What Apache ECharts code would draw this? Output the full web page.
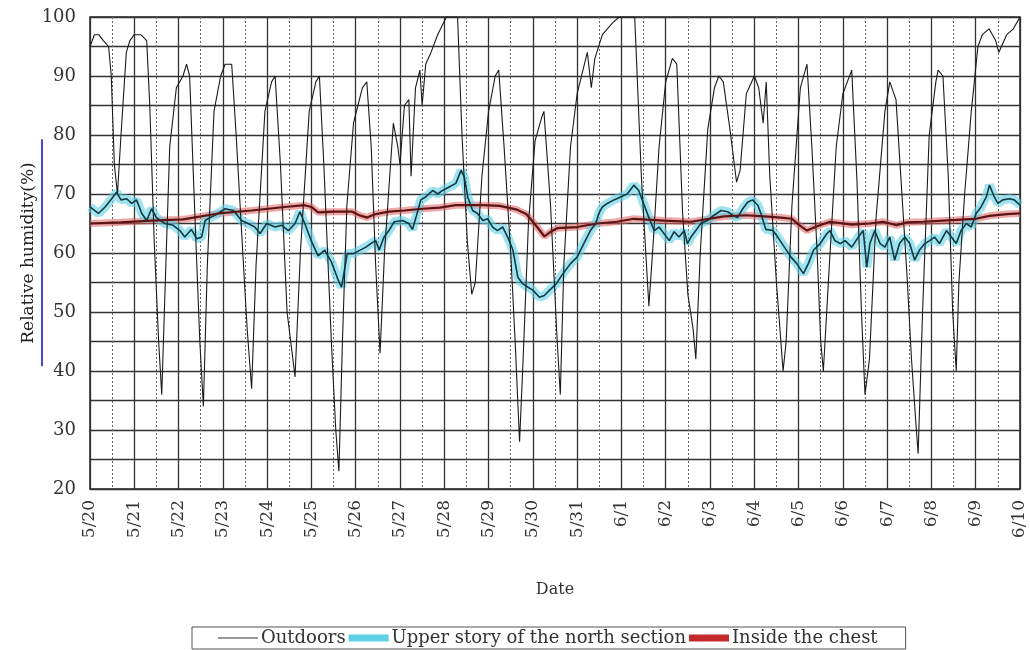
<!DOCTYPE html>
<html>
<head>
<meta charset="utf-8">
<title>Relative humidity</title>
<script src="https://cdn.jsdelivr.net/npm/echarts@6/dist/echarts.min.js"></script>
<style>
  html, body { margin: 0; padding: 0; background: #fff; }
  #chart { width: 1030px; height: 650px; }
</style>
</head>
<body>
<div id="chart"></div>
<script>
// x = days since 5/20 0:00
const dateLabels = ["5/20", "5/21", "5/22", "5/23", "5/24", "5/25", "5/26", "5/27", "5/28", "5/29", "5/30",
  "5/31", "6/1", "6/2", "6/3", "6/4", "6/5", "6/6", "6/7", "6/8", "6/9", "6/10"];

const outdoorsDay = [0, 0.1, 0.2, 0.3, 0.42, 0.48, 0.55, 0.62, 0.7, 0.82, 0.9, 1.0, 1.15, 1.28, 1.35, 1.45, 1.55, 1.62,
  1.7, 1.8, 1.95, 2.1, 2.18, 2.25, 2.35, 2.48, 2.56, 2.65, 2.8, 2.95, 3.05, 3.2, 3.3, 3.45, 3.55, 3.65, 3.75, 3.95,
  4.1, 4.18, 4.3, 4.45, 4.63, 4.75, 4.95, 5.1, 5.18, 5.28, 5.45, 5.55, 5.62, 5.7, 5.8, 5.95, 6.15, 6.25, 6.35, 6.45,
  6.55, 6.65, 6.85, 6.95, 7.0, 7.1, 7.2, 7.25, 7.35, 7.45, 7.5, 7.58, 7.7, 7.85, 7.98, 8.05, 8.3, 8.4, 8.52, 8.62,
  8.7, 8.85, 9.0, 9.15, 9.23, 9.35, 9.5, 9.6, 9.7, 9.78, 9.9, 10.05, 10.2, 10.25, 10.4, 10.55, 10.62, 10.7, 10.85,
  11.0, 11.23, 11.32, 11.4, 11.57, 11.8, 11.95, 12.3, 12.45, 12.55, 12.62, 12.72, 12.85, 13.0, 13.15, 13.25, 13.38,
  13.5, 13.62, 13.68, 13.78, 13.95, 14.1, 14.2, 14.3, 14.45, 14.6, 14.68, 14.82, 15.0, 15.1, 15.2, 15.27, 15.35,
  15.5, 15.65, 15.72, 15.85, 16.04, 16.19, 16.3, 16.42, 16.5, 16.56, 16.68, 16.85, 17.0, 17.2, 17.32, 17.42, 17.5,
  17.6, 17.75, 17.95, 18.06, 18.2, 18.3, 18.45, 18.55, 18.66, 18.7, 18.8, 18.95, 19.1, 19.15, 19.26, 19.38, 19.48,
  19.56, 19.62, 19.75, 19.9, 20.05, 20.15, 20.3, 20.45, 20.52, 20.7, 20.85, 21.0];
const outdoorsRH = [95, 97, 97, 96, 95, 90, 75, 70, 80, 94, 96, 97, 97, 96, 85, 62, 45, 36,
  55, 78, 88, 90, 92, 90, 70, 45, 34, 58, 84, 90, 92, 92, 80, 60, 47, 37, 58, 84,
  89, 90, 75, 50, 39, 60, 84, 89, 90, 75, 45, 30, 23, 45, 68, 82, 88, 89, 78, 58,
  43, 60, 82, 78, 75, 85, 86, 73, 88, 91, 85, 92, 94, 97, 99, 100, 100, 80, 62, 53,
  55, 73, 84, 90, 91, 78, 60, 45, 28, 42, 65, 79, 83, 84, 68, 45, 36, 58, 78,
  87, 94, 88, 93, 97, 99, 100, 100, 73, 60, 51, 62, 78, 89, 93, 92, 67,
  53, 47, 42, 60, 81, 88, 90, 89, 81, 72, 74, 87, 90, 88, 82, 89, 73,
  55, 40, 45, 68, 88, 92, 78, 60, 45, 40, 56, 78, 87, 91, 72, 50, 36,
  42, 66, 84, 89, 86, 74, 56, 42, 30, 26, 50, 80, 89, 91, 90, 73, 50,
  40, 55, 70, 84, 95, 97, 98, 96, 94, 97, 98, 100];

const upperDay = [0, 0.19, 0.34, 0.49, 0.6, 0.7, 0.83, 0.94, 1.05, 1.17, 1.28, 1.39, 1.5, 1.69, 1.88, 2.03, 2.14,
  2.29, 2.41, 2.52, 2.6, 2.71, 2.85, 3.05, 3.24, 3.42, 3.57, 3.72, 3.84, 3.99, 4.18, 4.33, 4.48, 4.63, 4.74, 4.85,
  5.0, 5.15, 5.3, 5.45, 5.6, 5.68, 5.81, 5.95, 6.23, 6.34, 6.45, 6.53, 6.64, 6.75, 6.87, 7.06, 7.2, 7.28, 7.36,
  7.47, 7.58, 7.74, 7.85, 7.96, 8.11, 8.26, 8.38, 8.45, 8.53, 8.64, 8.75, 8.87, 8.98, 9.09, 9.2, 9.32, 9.43, 9.55,
  9.66, 9.77, 9.89, 10.0, 10.15, 10.26, 10.38, 10.53, 10.68, 10.85, 11.0, 11.15, 11.3, 11.42, 11.49, 11.57, 11.68,
  11.83, 11.98, 12.13, 12.28, 12.39, 12.5, 12.62, 12.74, 12.85, 12.96, 13.08, 13.19, 13.3, 13.42, 13.49, 13.57,
  13.68, 13.79, 13.94, 14.09, 14.25, 14.4, 14.51, 14.62, 14.74, 14.85, 14.96, 15.08, 15.15, 15.26, 15.42, 15.53,
  15.68, 15.83, 15.96, 16.11, 16.22, 16.34, 16.49, 16.64, 16.71, 16.82, 16.94, 17.05, 17.2, 17.35, 17.46, 17.54,
  17.61, 17.72, 17.84, 17.95, 18.06, 18.17, 18.28, 18.4, 18.51, 18.62, 18.73, 18.85, 18.96, 19.07, 19.18, 19.34,
  19.45, 19.56, 19.67, 19.79, 19.9, 20.01, 20.12, 20.24, 20.31, 20.42, 20.5, 20.61, 20.76, 20.87, 21.0];
const upperRH = [67.8, 66.7, 67.8, 69.2, 70.3, 69, 69.2, 68.4, 69, 66.7, 65.5, 67.5, 66, 65, 64.7, 63.8, 62.7,
  64, 62.4, 62.7, 65.5, 66, 66.5, 67.5, 67.2, 65.5, 65, 64.4, 63.3, 65, 64.4, 64.7, 63.8, 65, 67, 65,
  62, 59.5, 60.5, 58.5, 55.5, 54.2, 59.9, 59.9, 61, 61.6, 62.1, 60.5, 62.7, 63.8, 65.3, 65.5, 65, 64, 66,
  69, 69.5, 70.6, 70, 70.6, 71.2, 71.8, 74, 72.9, 69.5, 67.2, 66.7, 65.5, 65.8, 64.4, 63.8, 64.4, 62.7, 60.5,
  55.9, 54.8, 54.2, 53.7, 52.5, 52.8, 53.7, 54.8, 56.5, 58.2, 59.3, 61.6, 63.8, 65, 66.7, 67.8, 68.4,
  69, 69.5, 70, 71.5, 70.6, 68.4, 66, 63.8, 64.4, 63.3, 62.1, 63.6, 62.7, 63.8, 61.6, 62.7,
  63.8, 65, 65.5, 66.4, 67.2, 67, 66.4, 66, 67.5, 68.6, 69, 68.1, 66.7, 64, 63.8, 62.7,
  61, 59.3, 58.2, 56.5, 58.2, 60.5, 61.6, 63.3, 63.8, 62.1, 61.6, 62.1, 61, 62.7, 63.8, 57.6,
  61.6, 63.8, 61.6, 61, 62.7, 58.8, 61.6, 62.7, 61.6, 58.8, 60.5, 61.6, 62.1, 62.7, 61.6, 63.8,
  62.7, 61.6, 63.8, 65, 64.4, 66.7, 67.8, 69.5, 71.5, 69.5, 68.4, 69, 69.2, 69, 68.1];

const chestDay = [0, 0.7, 1.4, 2.1, 2.9, 3.65, 4.4, 4.85, 5.0, 5.15, 5.5, 5.92, 6.08, 6.26, 6.45, 6.75, 7.1, 7.51,
  7.9, 8.26, 8.87, 9.25, 9.62, 9.85, 10.0, 10.15, 10.26, 10.4, 10.55, 11.0, 11.45, 11.9, 12.28, 12.96, 13.57,
  14.32, 14.8, 15.23, 15.6, 15.85, 16.0, 16.19, 16.4, 16.71, 17.2, 17.6, 17.91, 18.21, 18.45, 18.81, 19.56, 20.0,
  20.31, 20.7, 21];
const chestRH = [65, 65.2, 65.5, 65.7, 66.7, 67.2, 67.8, 68.1, 67.8, 66.9, 67, 67, 66.4, 66, 66.6, 67, 67.2, 67.5,
  67.7, 68.1, 68.1, 68, 67.4, 66.6, 65.3, 63.9, 62.8, 63.6, 64.2, 64.4, 65, 65.3, 65.8, 65.5, 65.3,
  66.2, 66.4, 66.2, 66, 65.8, 64.8, 63.8, 64.5, 65.3, 64.8, 65.0, 65.3, 64.7, 65.2, 65.3, 65.6, 65.8,
  66.3, 66.6, 66.7];

const serif = "'DejaVu Serif', 'Liberation Serif', serif";

// legend icons: thin line for outdoors, wide bands for the other two
const thinIcon = "path://M0,0h40v0.01h-40z M0,4.4h40v1.2h-40z M0,9.99h40v0.01h-40z";
const bandIcon = "path://M0,0h40v0.01h-40z M0,1.5h40v7h-40z M0,9.99h40v0.01h-40z";

function pairs(xs, ys) {
  return xs.map((x, i) => [x, ys[i]]);
}

const chart = echarts.init(document.getElementById("chart"));

const option = {
  backgroundColor: "#fff",
  animation: false,
  grid: {
    left: 90,
    right: 10,
    top: 17,
    height: 472,
    show: true,
    borderColor: "#222",
    borderWidth: 1.5,
  },
  legend: {
    bottom: 1,
    left: 192,
    data: [
      { name: "Outdoors", icon: thinIcon, itemStyle: { color: "#333" } },
      { name: "Upper story of the north section", icon: bandIcon, itemStyle: { color: "#5fd0e8" } },
      { name: "Inside the chest", icon: bandIcon, itemStyle: { color: "#c42a2a" } },
    ],
    itemWidth: 42,
    itemHeight: 10,
    itemGap: 3,
    padding: [2, 28, 2, 26],
    borderColor: "#555",
    borderWidth: 1,
    textStyle: { fontFamily: serif, fontSize: 18, color: "#333", padding: [0, 0, 0, -3] },
    selectedMode: false,
  },
  xAxis: {
    type: "value",
    min: 0,
    max: 21,
    interval: 1,
    name: "Date",
    nameLocation: "middle",
    nameGap: 93,
    nameMoveOverlap: false,
    nameTextStyle: { fontFamily: serif, fontSize: 16, color: "#333" },
    axisLine: { show: false },
    axisTick: { show: false },
    minorTick: { show: false, splitNumber: 2 },
    // date labels are drawn rotated below, from the axis scale
    axisLabel: { show: false },
    splitLine: { show: true, lineStyle: { color: "#333", width: 1.3, type: "solid" } },
    // half-day dotted lines
    minorSplitLine: { show: true, lineStyle: { color: "#666", width: 1, type: [2, 2] } },
  },
  yAxis: {
    type: "value",
    min: 20,
    max: 100,
    interval: 5,
    name: "Relative humidity(%)",
    nameLocation: "middle",
    nameGap: 53,
    nameMoveOverlap: false,
    nameTextStyle: { fontFamily: serif, fontSize: 17, color: "#222" },
    axisLine: { show: false },
    axisTick: { show: false },
    axisLabel: {
      margin: 14,
      fontFamily: serif,
      fontSize: 18,
      color: "#333",
      formatter: (v) => (v % 10 === 0 ? v : ""),
    },
    splitLine: { show: true, lineStyle: { color: "#333", width: 1.3 } },
  },
  series: [
    {
      name: "Inside the chest",
      type: "line",
      data: pairs(chestDay, chestRH),
      showSymbol: false,
      symbol: "none",
      lineStyle: { color: "rgba(226, 96, 96, 0.55)", width: 7 },
      itemStyle: { color: "#d94a4a" },
      z: 2,
    },
    {
      name: "Upper story of the north section",
      type: "line",
      data: pairs(upperDay, upperRH),
      showSymbol: false,
      symbol: "none",
      lineStyle: { color: "rgba(95, 208, 232, 0.6)", width: 9 },
      itemStyle: { color: "#5fd0e8" },
      z: 2,
    },
    {
      name: "Outdoors",
      type: "line",
      data: pairs(outdoorsDay, outdoorsRH),
      showSymbol: false,
      symbol: "none",
      lineStyle: { color: "#1a1a1a", width: 1.1 },
      itemStyle: { color: "#1a1a1a" },
      z: 3,
    },
    {
      name: "upper line",
      type: "line",
      data: pairs(upperDay, upperRH),
      showSymbol: false,
      symbol: "none",
      lineStyle: { color: "#113a40", width: 1.6 },
      z: 4,
    },
    {
      name: "chest line",
      type: "line",
      data: pairs(chestDay, chestRH),
      showSymbol: false,
      symbol: "none",
      lineStyle: { color: "#5c1414", width: 2.2 },
      z: 5,
    },
  ],
};

chart.setOption(option);

// rotated date labels, placed through the axis scale
const labelGraphics = dateLabels.map((text, i) => {
  const p = chart.convertToPixel({ xAxisIndex: 0, yAxisIndex: 0 }, [i, 20]);
  return {
    type: "text",
    x: p[0],
    y: p[1] + 11,
    rotation: Math.PI / 2,
    style: {
      text: text,
      align: "right",
      verticalAlign: "middle",
      fontFamily: serif,
      fontSize: 17,
      fill: "#333",
    },
  };
});

// the blue mark beside the y-axis title
const markTop = chart.convertToPixel({ yAxisIndex: 0 }, 79.3);
const markBottom = chart.convertToPixel({ yAxisIndex: 0 }, 40.8);
labelGraphics.push({
  type: "line",
  shape: { x1: 42, y1: markTop, x2: 42, y2: markBottom },
  style: { stroke: "#4a48d8", lineWidth: 2 },
});

chart.setOption({ graphic: labelGraphics });
</script>
</body>
</html>
